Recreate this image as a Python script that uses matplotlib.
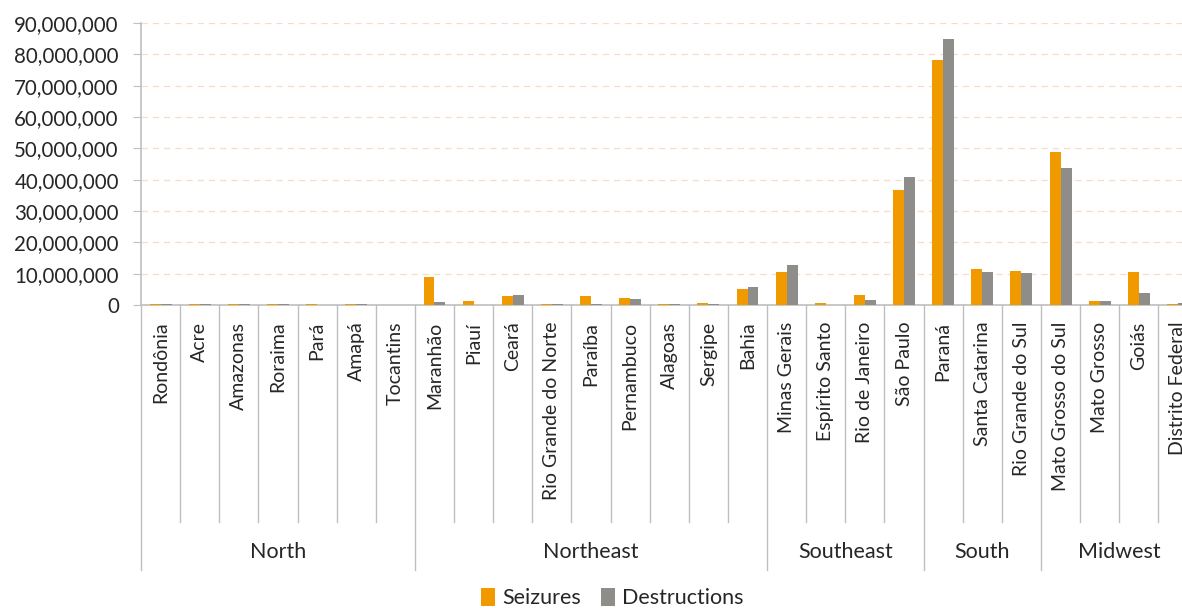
import numpy as np
import matplotlib.pyplot as plt
from matplotlib.ticker import FuncFormatter
from matplotlib.transforms import blended_transform_factory

plt.rcParams['font.family'] = ['Lato', 'DejaVu Sans']

# Seizures and destructions by state, grouped by region
states = ['Rondônia', 'Acre', 'Amazonas', 'Roraima', 'Pará', 'Amapá', 'Tocantins',
          'Maranhão', 'Piauí', 'Ceará', 'Rio Grande do Norte', 'Paraíba', 'Pernambuco',
          'Alagoas', 'Sergipe', 'Bahia',
          'Minas Gerais', 'Espírito Santo', 'Rio de Janeiro', 'São Paulo',
          'Paraná', 'Santa Catarina', 'Rio Grande do Sul',
          'Mato Grosso do Sul', 'Mato Grosso', 'Goiás', 'Distrito Federal']
seizures = [0.3, 0.3, 0.3, 0.3, 0.3, 0.3, 0.0,
            9.0, 1.3, 2.8, 0.3, 2.8, 2.2, 0.3, 0.6, 5.0,
            10.5, 0.6, 3.2, 36.7,
            78.3, 11.4, 10.8,
            48.7, 1.3, 10.5, 0.3]
destructions = [0.3, 0.3, 0.3, 0.3, 0.05, 0.3, 0.0,
                1.0, 0.1, 3.1, 0.3, 0.2, 2.0, 0.3, 0.3, 5.9,
                12.8, 0.1, 1.5, 40.7,
                85.0, 10.5, 10.1,
                43.7, 1.3, 3.8, 0.6]
regions = ['North', 'Northeast', 'Southeast', 'South', 'Midwest']
region_sizes = [7, 9, 4, 3, 4]

seizures = np.array(seizures) * 1e6
destructions = np.array(destructions) * 1e6

orange = '#F09A00'
gray = '#8E8D89'
text_col = '#262626'
line_col = '#BFBFBF'

fig = plt.figure(figsize=(11.82, 6.08), dpi=100)
# axes run past the right edge so the last category is cut off
ax = fig.add_axes([141 / 1182, 1 - 305 / 608, 1056.5 / 1182, 282 / 608])

x = np.arange(len(states))
w = 0.28
ax.bar(x - w / 2, seizures, w, color=orange, label='Seizures', zorder=3)
ax.bar(x + w / 2, destructions, w, color=gray, label='Destructions', zorder=3)

ax.set_xlim(-0.5, len(states) - 0.5)
ax.set_ylim(0, 90e6)
ax.set_yticks(np.arange(0, 90e6 + 1, 10e6))
ax.yaxis.set_major_formatter(FuncFormatter(lambda v, p: f'{v:,.0f}'))
ax.tick_params(axis='y', labelsize=14.8, labelcolor=text_col, length=6,
               color=line_col, pad=10)
ax.yaxis.grid(True, linestyle=(0, (5, 4)), color='#F9D9C8', linewidth=0.9, zorder=0)

ax.set_xticks(x)
ax.set_xticklabels(states, rotation=90, va='top', ha='center')
ax.tick_params(axis='x', labelsize=14, labelcolor=text_col, length=0, pad=12)

for side in ['top', 'right']:
    ax.spines[side].set_visible(False)
for side in ['left', 'bottom']:
    ax.spines[side].set_color(line_col)
    ax.spines[side].set_linewidth(1.2)

# category separators and region brackets below the axis
trans = blended_transform_factory(ax.transData, ax.transAxes)
bounds = np.cumsum([0] + region_sizes)
for i in range(len(states) + 1):
    bottom = -0.94 if i in bounds else -0.77
    ax.plot([i - 0.5, i - 0.5], [0, bottom], color=line_col, lw=1.0,
            transform=trans, clip_on=False)
for name, start, end in zip(regions, bounds[:-1], bounds[1:]):
    ax.text((start + end - 1) / 2, -0.877, name, transform=trans, ha='center',
            va='center', fontsize=15.5, color=text_col)

fig.legend(loc='center', bbox_to_anchor=(0.518, 1 - 598 / 608), ncol=2, frameon=False,
           fontsize=15.5, handlelength=0.65, handleheight=0.9, handletextpad=0.35,
           columnspacing=0.9, labelcolor=text_col)

fig.savefig('out.png', dpi=100)
